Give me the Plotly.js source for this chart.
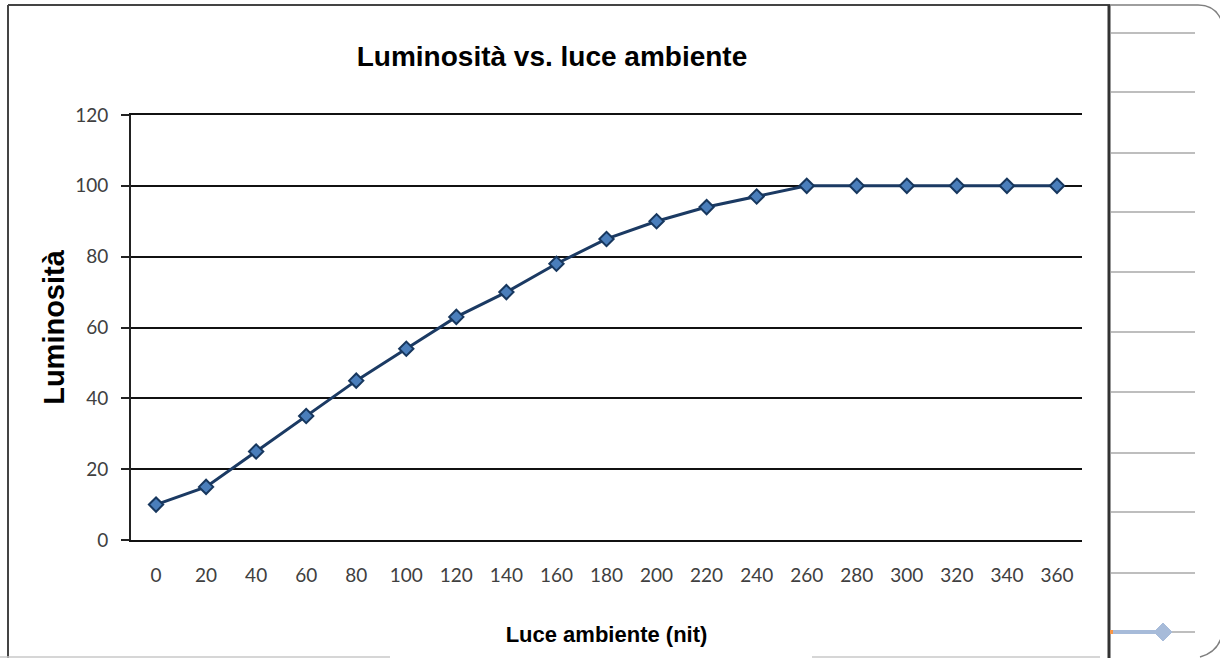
<!DOCTYPE html>
<html>
<head>
<meta charset="utf-8">
<script src="https://cdn.plot.ly/plotly-3.0.1.min.js"></script>
<style>html,body{margin:0;padding:0;background:#fff;}#chart{width:1220px;height:658px;}</style>
</head>
<body>
<div id="chart"></div>
<script>
// Data
const xCategories = ["0","20","40","60","80","100","120","140","160","180","200","220","240","260","280","300","320","340","360"];
const luminosity = [10,15,25,35,45,54,63,70,78,85,90,94,97,100,100,100,100,100,100];
const yTickVals = [0,20,40,60,80,100,120];
const yTickText = ["0","20","40","60","80","100","120"];

// layout geometry (pixels)
const W = 1220, H = 658;
const L = 131, R = 1082, T = 115, B = 540;
const px = v => (v - L) / (R - L);
const py = v => (B - v) / (B - T);

const shapes = [];
function line(x0,y0,x1,y1,color,width){
  shapes.push({type:'line',xref:'paper',yref:'paper',x0:px(x0),y0:py(y0),x1:px(x1),y1:py(y1),
    line:{color:color,width:width},layer:'above'});
}
// outer frame
line(8,5,1110,5,'#444',2);
line(8,5,8,658,'#444',2);
line(1109,5,1109,658,'#333',3);
line(0,657,390,657,'#c8c8c8',1.5);
line(812,657,1100,657,'#c8c8c8',1.5);
// right side lines
[33,92,153,212,272,332,392,453,512,573,632].forEach(y=>line(1111,y,1195,y,'#7f7f7f',1.2));
// top right rounded corner
shapes.push({type:'path',xref:'paper',yref:'paper',
  path:`M ${px(1110)} ${py(5)} L ${px(1198)} ${py(5)} Q ${px(1216)} ${py(5)} ${px(1222)} ${py(22)}`,
  line:{color:'#7f7f7f',width:1.5}});
// bottom right rounded corner
shapes.push({type:'path',xref:'paper',yref:'paper',
  path:`M ${px(1222)} ${py(635)} Q ${px(1218)} ${py(652)} ${px(1200)} ${py(657)}`,
  line:{color:'#7f7f7f',width:1.5}});
// legend key fragment
line(1111,632,1160,632,'#a7bbd9',4);
line(1110,632,1113,632,'#f79646',4);
shapes.push({type:'path',xref:'paper',yref:'paper',
  path:`M ${px(1163)} ${py(623)} L ${px(1172)} ${py(632)} L ${px(1163)} ${py(641)} L ${px(1154)} ${py(632)} Z`,
  fillcolor:'#a7bbd9',line:{color:'#a7bbd9',width:1}});

const trace = {
  type:'scatter', mode:'lines+markers',
  x: xCategories, y: luminosity,
  line:{color:'#1b3a63',width:3},
  marker:{symbol:'diamond',size:11,color:'#4a7ebb',line:{color:'#17375e',width:2}},
  showlegend:false, hoverinfo:'x+y'
};

const layout = {
  width:W, height:H,
  margin:{l:L, r:W-R, t:T, b:H-B, pad:0},
  paper_bgcolor:'#fff', plot_bgcolor:'#fff',
  showlegend:false,
  title:{text:'<b>Luminosità vs. luce ambiente</b>', font:{family:'Liberation Sans, Arial, sans-serif',size:28,color:'#000'},
    x:552/W, xref:'container', xanchor:'center', y:1-56/H, yref:'container', yanchor:'middle'},
  xaxis:{type:'category', categoryorder:'array', categoryarray:xCategories, range:[-0.5,18.5],
    showgrid:false, zeroline:false, showline:true, mirror:true, linecolor:'#111', linewidth:2, ticks:'',
    tickfont:{family:'Lato, Open Sans, sans-serif',size:19,color:'#404040'}, ticklabelstandoff:17,
    title:{text:'<b>Luce ambiente (nit)</b>', font:{family:'Liberation Sans, Arial, sans-serif',size:22,color:'#000'}, standoff:42},
    fixedrange:true},
  yaxis:{range:[0,120], tickvals:yTickVals, ticktext:yTickText,
    showgrid:true, gridcolor:'#111', gridwidth:2, zeroline:false,
    showline:true, linecolor:'#222', linewidth:2, ticks:'outside', ticklen:8, tickcolor:'#222', tickwidth:2,
    tickfont:{family:'Lato, Open Sans, sans-serif',size:19,color:'#404040'}, ticklabelstandoff:9,
    title:{text:'<b>Luminosità</b>', font:{family:'Liberation Sans, Arial, sans-serif',size:29,color:'#000'}, standoff:2},
    fixedrange:true},
  shapes:shapes
};

Plotly.newPlot('chart',[trace],layout,{displayModeBar:false,staticPlot:true});
</script>
</body>
</html>
